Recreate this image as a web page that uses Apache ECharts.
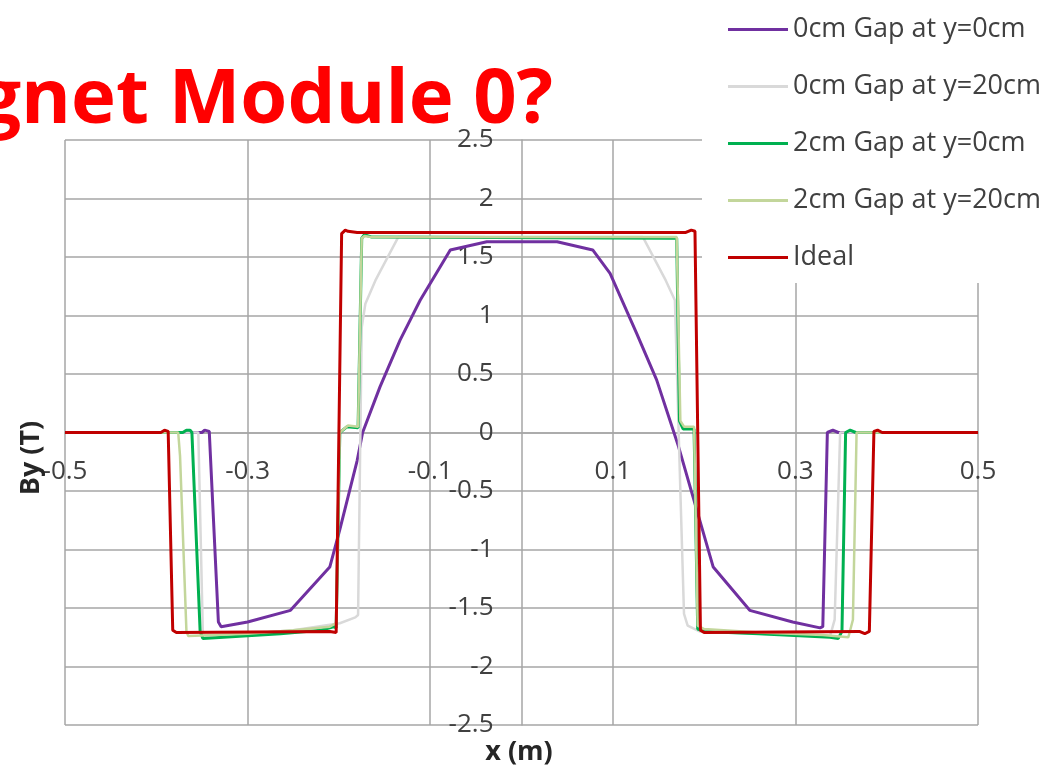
<!DOCTYPE html>
<html><head><meta charset="utf-8">
<script src="https://cdn.jsdelivr.net/npm/echarts@6/dist/echarts.min.js"></script>
<style>html,body{margin:0;padding:0;background:#fff}#c{width:1050px;height:767px}</style>
</head><body><div id="c"></div>
<script>
const seriesNames = ['0cm Gap at y=0cm', '0cm Gap at y=20cm', '2cm Gap at y=0cm', '2cm Gap at y=20cm', 'Ideal'];
const seriesColors = ['#7030a0', '#d9d9d9', '#00b050', '#c3d69b', '#c00000'];

// 0cm Gap at y=0cm (purple)
const gap0y0X = [-0.5, -0.35, -0.347, -0.342, -0.332, -0.329, -0.30, -0.253, -0.21, -0.199, -0.18, -0.174, -0.155, -0.133, -0.111, -0.078, -0.038, 0.039, 0.078, 0.097, 0.126, 0.148, 0.172, 0.21, 0.25, 0.297, 0.327, 0.330, 0.335, 0.341, 0.347, 0.5];
const gap0y0Y = [0, 0, 0.02, 0.01, -1.62, -1.66, -1.62, -1.52, -1.15, -0.83, -0.24, 0.0, 0.39, 0.79, 1.13, 1.56, 1.63, 1.63, 1.56, 1.36, 0.85, 0.45, -0.12, -1.15, -1.52, -1.62, -1.67, -1.66, 0.0, 0.02, 0, 0];

// 0cm Gap at y=20cm (light grey)
const gap0y20X = [-0.5, -0.354, -0.349, -0.346, -0.30, -0.25, -0.199, -0.182, -0.179, -0.175, -0.171, -0.16, -0.135, 0.133, 0.158, 0.168, 0.174, 0.178, 0.182, 0.195, 0.26, 0.338, 0.343, 0.349, 0.5];
const gap0y20Y = [0, 0, -1.72, -1.74, -1.72, -1.69, -1.63, -1.58, -1.56, 0.9, 1.1, 1.3, 1.67, 1.67, 1.3, 1.13, -0.5, -1.55, -1.65, -1.70, -1.72, -1.74, -1.6, 0, 0];

// 2cm Gap at y=0cm (green)
const gap2y0X = [-0.5, -0.371, -0.367, -0.363, -0.361, -0.352, -0.349, -0.264, -0.22, -0.206, -0.203, -0.199, -0.191, -0.179, -0.175, -0.172, -0.164, 0.165, 0.17, 0.173, 0.177, 0.189, 0.193, 0.2, 0.26, 0.338, 0.347, 0.351, 0.355, 0.36, 0.366, 0.5];
const gap2y0Y = [0, 0, 0.02, 0.02, 0.0, -1.70, -1.76, -1.72, -1.69, -1.66, -1.67, 0.0, 0.05, 0.04, 1.66, 1.69, 1.67, 1.66, 1.66, 0.1, 0.03, 0.03, -1.68, -1.70, -1.72, -1.75, -1.76, -1.7, 0.0, 0.02, 0, 0];

// 2cm Gap at y=20cm (light green)
const gap2y20X = [-0.5, -0.376, -0.374, -0.367, -0.365, -0.30, -0.25, -0.21, -0.203, -0.199, -0.19, -0.179, -0.175, -0.172, -0.164, 0.165, 0.17, 0.174, 0.178, 0.189, 0.193, 0.2, 0.26, 0.33, 0.358, 0.363, 0.367, 0.5];
const gap2y20Y = [0, 0, -0.2, -1.70, -1.74, -1.72, -1.69, -1.66, -1.63, 0.0, 0.06, 0.05, 1.66, 1.68, 1.67, 1.67, 1.67, 0.1, 0.05, 0.05, -1.65, -1.68, -1.71, -1.73, -1.75, -1.6, 0, 0];

// Ideal (red)
const idealX = [-0.5, -0.395, -0.391, -0.387, -0.382, -0.378, -0.21, -0.203, -0.197, -0.193, -0.19, -0.18, 0.18, 0.186, 0.19, 0.196, 0.2, 0.37, 0.376, 0.381, 0.386, 0.39, 0.395, 0.5];
const idealY = [0, 0, 0.02, 0.01, -1.69, -1.71, -1.70, -1.71, 1.70, 1.73, 1.72, 1.71, 1.71, 1.73, 1.72, -1.69, -1.71, -1.70, -1.72, -1.70, 0.01, 0.02, 0, 0];

const seriesXs = [gap0y0X, gap0y20X, gap2y0X, gap2y20X, idealX];
const seriesYs = [gap0y0Y, gap0y20Y, gap2y0Y, gap2y20Y, idealY];
const lineWidths = [3, 2.5, 3, 2.5, 3];

const X_MIN = -0.5, X_MAX = 0.5, Y_MIN = -2.5, Y_MAX = 2.5;
const GRID = {left: 65, right: 72, top: 140, bottom: 42};
const W = 1050, H = 767;
// place the axes on the other axis' zero (computed from the grid box)
const plotW = W - GRID.left - GRID.right, plotH = H - GRID.top - GRID.bottom;
const yAxisOffset = -plotW * (0 - X_MIN) / (X_MAX - X_MIN);
const xAxisOffset = -plotH * (0 - Y_MIN) / (Y_MAX - Y_MIN);

const chart = echarts.init(document.getElementById('c'), null, {renderer: 'canvas'});
const fontFam = '"Open Sans", "DejaVu Sans", sans-serif';
const gridColor = '#a6a6a6';
const labelColor = '#404040';

const series = seriesNames.map((n, i) => ({
  name: n,
  type: 'line',
  data: seriesXs[i].map((x, k) => [x, seriesYs[i][k]]),
  showSymbol: false,
  symbol: 'none',
  smooth: false,
  lineStyle: {color: seriesColors[i], width: lineWidths[i]},
  itemStyle: {color: seriesColors[i]},
  z: 2 + i,
  animation: false
}));

chart.setOption({
  animation: false,
  backgroundColor: '#ffffff',
  grid: Object.assign({containLabel: false, outerBoundsMode: 'none'}, GRID),
  xAxis: {
    type: 'value', min: X_MIN, max: X_MAX, interval: 0.2,
    position: 'bottom', offset: xAxisOffset,
    axisLine: {show: true, onZero: false, lineStyle: {color: gridColor, width: 1.5}},
    axisTick: {show: false},
    splitLine: {show: true, lineStyle: {color: gridColor, width: 1.5}},
    axisLabel: {color: labelColor, fontSize: 26, fontFamily: fontFam, margin: 26,
      showMinLabel: true, showMaxLabel: true, hideOverlap: false,
      formatter: v => String(Math.round(v * 10) / 10)}
  },
  yAxis: {
    type: 'value', min: Y_MIN, max: Y_MAX, interval: 0.5,
    position: 'left', offset: yAxisOffset,
    axisLine: {show: true, onZero: false, lineStyle: {color: gridColor, width: 1.5}},
    axisTick: {show: false},
    splitLine: {show: true, lineStyle: {color: gridColor, width: 1.5}},
    axisLabel: {color: labelColor, fontSize: 26, fontFamily: fontFam, margin: 28,
      showMinLabel: true, showMaxLabel: true, hideOverlap: false,
      formatter: v => String(Math.round(v * 10) / 10)}
  },
  legend: {
    orient: 'vertical',
    left: 702, top: 0,
    padding: [16, 20, 12, 26],
    backgroundColor: '#ffffff',
    itemWidth: 60, itemHeight: 3,
    itemGap: 30,
    icon: 'rect',
    textStyle: {color: labelColor, fontSize: 27, fontFamily: fontFam},
    data: seriesNames
  },
  graphic: [
    {type: 'text', x: 553, y: 101, z: 100,
      style: {text: 'Magnet Module 0?', fill: '#ff0000', font: 'bold 76px "Open Sans", sans-serif', textAlign: 'right', textVerticalAlign: 'middle'}},
    {type: 'text', x: 31, y: 458, rotation: Math.PI / 2, z: 100,
      style: {text: 'By (T)', fill: '#262626', font: 'bold 27px ' + fontFam, textAlign: 'center', textVerticalAlign: 'middle'}},
    {type: 'text', x: 519, y: 752, z: 100,
      style: {text: 'x (m)', fill: '#262626', font: 'bold 27px ' + fontFam, textAlign: 'center', textVerticalAlign: 'middle'}}
  ],
  series: series
});
</script></body></html>
